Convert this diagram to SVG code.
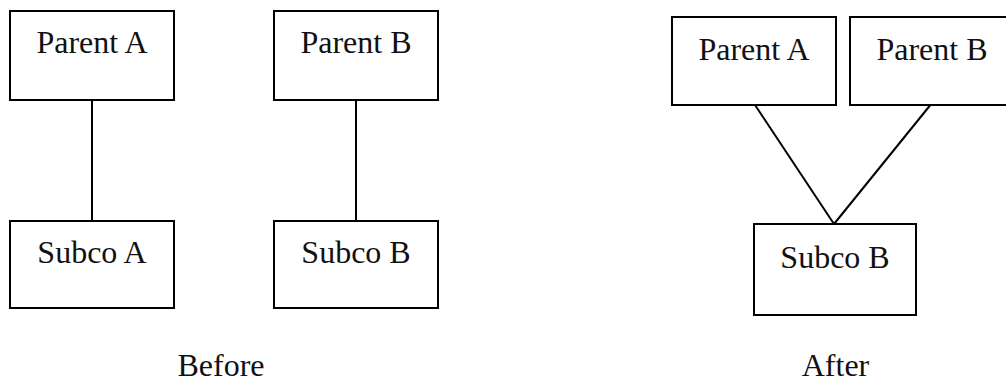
<svg xmlns="http://www.w3.org/2000/svg" width="1006" height="385" viewBox="0 0 1006 385">
<style>
.box{fill:#fff;stroke:#000;stroke-width:2}
.lbl{font-family:"Liberation Serif","Times New Roman",serif;font-size:32px;fill:#111;text-anchor:middle}
.conn{stroke:#000;stroke-width:2;fill:none}
</style>
<rect width="1006" height="385" fill="#fff"/>
<g id="connectors">
<line class="conn" x1="92" y1="100" x2="92" y2="221"/>
<line class="conn" x1="356" y1="100" x2="356" y2="221"/>
<line class="conn" x1="755" y1="105" x2="834" y2="224"/>
<line class="conn" x1="932" y1="103" x2="834" y2="224"/>
</g>
<g id="parentA-before"><rect class="box" x="10" y="11" width="164" height="89"/><text class="lbl" x="92" y="53">Parent A</text></g>
<g id="parentB-before"><rect class="box" x="274" y="11" width="164" height="89"/><text class="lbl" x="356" y="53">Parent B</text></g>
<g id="subcoA-before"><rect class="box" x="10" y="221" width="164" height="87"/><text class="lbl" x="92" y="263">Subco A</text></g>
<g id="subcoB-before"><rect class="box" x="274" y="221" width="164" height="87"/><text class="lbl" x="356" y="263">Subco B</text></g>
<g id="parentA-after"><rect class="box" x="672" y="17" width="164" height="88"/><text class="lbl" x="754" y="60">Parent A</text></g>
<g id="parentB-after"><rect class="box" x="850" y="17" width="164" height="88"/><text class="lbl" x="932" y="60">Parent B</text></g>
<g id="subcoB-after"><rect class="box" x="754" y="224" width="162" height="91"/><text class="lbl" x="835" y="268">Subco B</text></g>
<g id="captions"><text class="lbl" x="221" y="376">Before</text><text class="lbl" x="835.5" y="376">After</text></g>
</svg>
